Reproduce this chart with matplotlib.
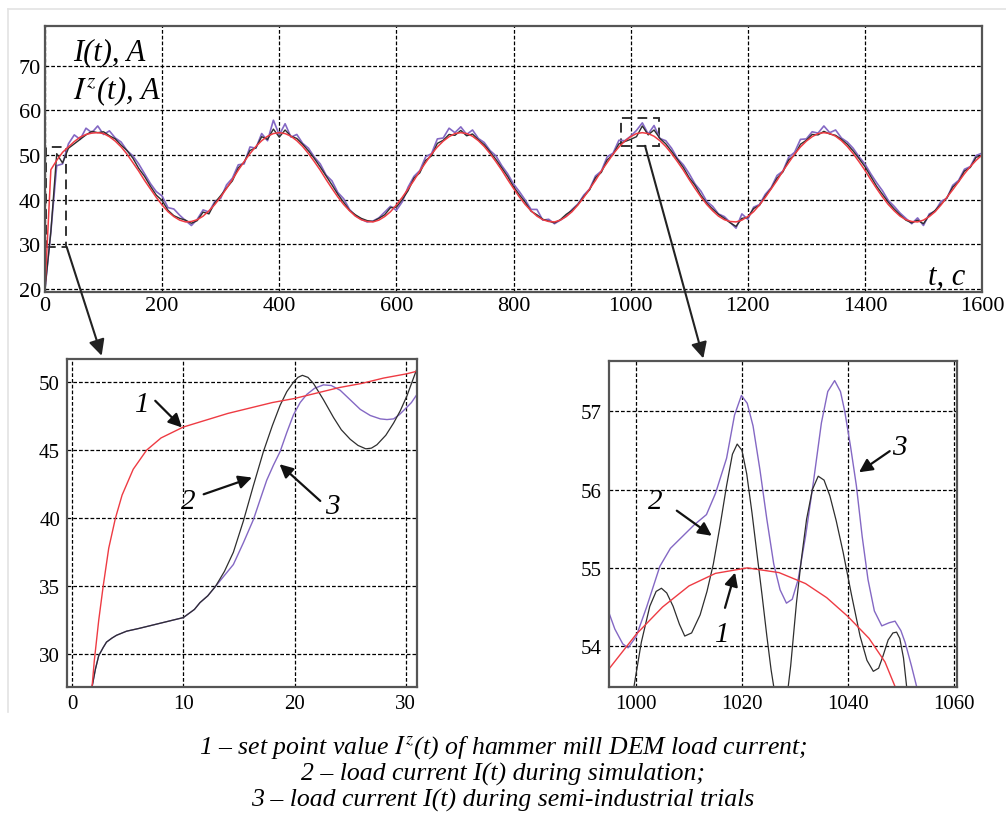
import numpy as np
import matplotlib
matplotlib.use("Agg")
import matplotlib.pyplot as plt
from matplotlib.patches import Rectangle, ConnectionPatch
from matplotlib.lines import Line2D

plt.rcParams['font.family'] = ['Liberation Serif', 'DejaVu Serif']
plt.rcParams['mathtext.fontset'] = 'stix'

# ---- main plot, t = 0..1600 s step 10 ----
t_main = np.arange(0, 1601, 10)

red_main = [20.0, 46.7, 48.8, 50.6, 51.8, 53.0, 54.0, 54.6, 54.9,
            55.0, 54.8, 54.1, 53.1, 51.8, 50.2, 48.3, 46.4, 44.3, 42.4,
            40.5, 38.8, 37.3, 36.2, 35.4, 35.0, 35.1, 35.5, 36.3, 37.5,
            38.9, 40.6, 42.5, 44.5, 46.6, 48.5, 50.3, 51.9, 53.2, 54.2, 54.8,
            55.0, 54.8, 54.2, 53.2, 51.9, 50.3, 48.5, 46.6, 44.5, 42.5, 40.6,
            38.9, 37.5, 36.3, 35.5, 35.1, 35.0, 35.4, 36.2, 37.3, 38.8, 40.5,
            42.4, 44.3, 46.4, 48.3, 50.2, 51.8, 53.1, 54.1, 54.8, 55.0,
            54.8, 54.2, 53.2, 51.9, 50.3, 48.5, 46.6, 44.5, 42.5, 40.6,
            38.9, 37.5, 36.3, 35.5, 35.1, 35.0, 35.4, 36.2, 37.3, 38.8, 40.5,
            42.4, 44.3, 46.4, 48.3, 50.2, 51.8, 53.1, 54.1, 54.8, 55.0,
            54.8, 54.2, 53.2, 51.9, 50.3, 48.5, 46.6, 44.5, 42.5, 40.6,
            38.9, 37.5, 36.3, 35.5, 35.1, 35.0, 35.4, 36.2, 37.3, 38.8, 40.5,
            42.4, 44.3, 46.4, 48.3, 50.2, 51.8, 53.1, 54.1, 54.8, 55.0,
            54.8, 54.2, 53.2, 51.9, 50.3, 48.5, 46.6, 44.5, 42.5, 40.6,
            38.9, 37.5, 36.3, 35.5, 35.1, 35.0, 35.4, 36.2, 37.3, 38.8, 40.5,
            42.2, 44.0, 45.8, 47.4, 48.8, 50.0]

sim_main = [20.0, 32.8, 50.3, 48.2, 51.5, 52.5, 53.5, 54.5, 55.3, 55.0,
            55.2, 54.3, 53.6, 52.2, 51.0, 49.3, 47.0, 45.2, 43.0, 41.0,
            39.8, 37.6, 36.4, 35.8, 35.4, 34.7, 35.3, 37.2, 36.8, 39.3,
            40.9, 42.6, 44.2, 47.1, 48.4, 51.0, 51.6, 54.1, 53.5, 55.8,
            54.0, 55.6, 54.2, 53.7, 52.4, 50.9, 49.2, 47.3, 45.3, 43.3,
            41.2, 39.4, 37.6, 36.6, 35.8, 35.3, 35.1, 35.8, 36.6, 38.2,
            38.3, 40.0, 42.0, 44.8, 46.0, 48.8, 49.8, 52.6, 53.3, 54.6,
            54.4, 55.5, 54.3, 54.7, 53.4, 52.3, 50.7, 49.0, 47.1, 45.2,
            42.9, 41.1, 39.4, 37.4, 36.6, 35.6, 35.2, 34.8, 35.5, 36.7,
            37.6, 38.9, 40.7, 42.2, 44.9, 46.1, 48.9, 50.1, 52.5, 53.0,
            53.5, 54.1, 56.5, 54.5, 55.6, 53.7, 52.5, 50.8, 49.0, 47.2,
            44.9, 43.2, 41.0, 39.2, 37.9, 36.7, 35.8, 34.8, 34.0, 35.8,
            36.0, 38.0, 38.7, 40.8, 42.5, 44.8, 46.2, 48.9, 50.0, 52.4,
            53.3, 54.6, 54.5, 55.3, 54.7, 54.4, 53.5, 52.4, 50.9, 49.2,
            47.4, 45.2, 43.0, 41.2, 39.4, 37.9, 36.6, 35.4, 34.8, 35.4,
            34.6, 36.5, 37.6, 39.0, 40.4, 42.8, 44.0, 46.4, 47.2, 49.5,
            49.8]

trial_main = [20.0, 32.8, 47.6, 48.0, 52.5, 54.5, 53.5, 56.0, 55.0, 56.5,
              54.6, 55.4, 53.8, 52.9, 51.0, 49.8, 48.0, 45.8, 43.6, 41.8,
              40.8, 38.2, 37.9, 36.5, 35.3, 34.2, 35.6, 37.7, 37.2, 39.6,
              40.3, 43.3, 44.8, 47.8, 48.0, 51.8, 51.5, 54.8, 53.2, 57.8,
              54.5, 57.0, 54.0, 54.6, 52.6, 51.5, 49.5, 48.0, 45.5, 44.2,
              41.6, 40.2, 37.8, 36.4, 35.6, 35.0, 35.2, 35.9, 37.2, 38.5,
              37.6, 39.5, 42.8, 45.2, 46.5, 49.6, 50.3, 53.6, 53.8, 56.0,
              55.0, 56.3, 54.6, 55.6, 53.7, 52.8, 51.0, 49.8, 47.6, 45.8,
              43.5, 41.8, 39.9, 37.8, 37.8, 35.4, 35.6, 34.6, 35.4, 36.3,
              37.8, 39.0, 41.0, 42.4, 45.3, 46.4, 49.6, 50.4, 53.3, 53.2,
              54.2, 55.5, 57.2, 54.7, 56.6, 53.7, 53.2, 51.5, 49.2, 47.8,
              45.8, 43.5, 41.9, 39.6, 38.5, 36.8, 36.2, 34.9, 33.6, 36.8,
              35.6, 38.3, 38.9, 41.2, 42.7, 45.4, 46.4, 49.5, 50.6, 53.5,
              53.6, 55.2, 54.9, 56.5, 55.0, 55.6, 53.8, 52.9, 51.5, 49.6,
              48.0, 45.8, 43.8, 42.0, 39.8, 38.5, 37.0, 35.8, 34.6, 35.9,
              34.2, 36.8, 37.4, 39.6, 40.3, 43.2, 44.3, 46.8, 47.4, 49.9,
              50.4]

# ---- left zoom (start-up) ----
t_red_left = [1.8, 2.0, 2.4, 2.8, 3.3, 3.9, 4.5, 5.5, 6.7, 8.0, 10.0, 12.0,
              14.0, 16.0, 18.0, 20.0, 22.0, 24.0, 26.0, 28.0, 30.0, 31.5]
red_left = [27.6, 29.5, 32.5, 35.0, 37.8, 40.0, 41.7, 43.6, 45.0, 45.9, 46.7, 47.2,
            47.7, 48.1, 48.5, 48.8, 49.2, 49.6, 49.9, 50.3, 50.6, 50.9]
t_sim_left = [1.8, 2.1, 2.4, 2.8, 3.1, 3.6, 4.0, 4.9, 6.0, 7.0, 8.5, 10.0, 11.0,
              11.5, 12.2, 12.9, 13.7, 14.5, 15.4, 16.3, 17.2, 18.0, 18.7, 19.3,
              19.9, 20.3, 20.7, 21.2, 21.7, 22.6, 23.5, 24.2, 25.0, 25.7, 26.4,
              26.9, 27.4, 28.2, 28.9, 29.5, 30.1, 31.0, 31.5]
sim_left = [27.6, 28.9, 29.9, 30.5, 30.9, 31.2, 31.4, 31.7, 31.9, 32.1, 32.4, 32.7, 33.3,
            33.8, 34.3, 35.0, 36.1, 37.5, 39.8, 42.4, 44.9, 46.8, 48.3, 49.3,
            50.0, 50.35, 50.5, 50.35, 49.9, 48.7, 47.4, 46.5, 45.8, 45.35, 45.1,
            45.15, 45.4, 46.1, 47.0, 47.9, 49.0, 51.0, 51.8]
t_trial_left = [1.8, 2.1, 2.4, 2.8, 3.1, 3.6, 4.0, 4.9, 6.0, 7.0, 8.5, 10.0, 11.0,
                11.5, 12.2, 12.9, 13.7, 14.5, 15.4, 16.3, 17.0, 17.5, 18.1, 18.7,
                19.3, 19.9, 20.5, 21.1, 21.8, 22.6, 23.3, 24.1, 25.0, 25.9, 26.8,
                27.7, 28.3, 28.9, 29.4, 29.9, 30.5, 31.0, 31.5]
trial_left = [27.6, 28.9, 29.9, 30.5, 30.9, 31.2, 31.4, 31.7, 31.9, 32.1, 32.4, 32.7, 33.3,
              33.8, 34.3, 35.0, 35.8, 36.6, 38.2, 39.9, 41.6, 42.8, 43.9, 44.9,
              46.3, 47.6, 48.5, 49.1, 49.55, 49.8, 49.75, 49.4, 48.7, 48.0, 47.55,
              47.3, 47.25, 47.3, 47.6, 48.0, 48.5, 49.1, 49.6]

# ---- right zoom (around t = 1020 s) ----
t_red_right = [995, 1000, 1005, 1010, 1015, 1021, 1027, 1032, 1036, 1040, 1044,
               1047, 1049, 1050]
red_right = [53.72, 54.15, 54.50, 54.77, 54.93, 55.00, 54.94, 54.80, 54.62, 54.38,
             54.10, 53.80, 53.47, 53.30]
t_sim_right = [999.0, 999.6, 1001.0, 1002.6, 1003.8, 1004.8, 1005.8, 1007.0, 1008.2,
               1009.2, 1010.5, 1012.1, 1013.4, 1014.6, 1015.9, 1017.1, 1018.2,
               1019.1, 1020.0, 1020.9, 1021.9, 1022.8, 1023.8, 1024.7, 1025.5,
               1026.2, 1027.3, 1028.5, 1029.2, 1030.3, 1031.2, 1032.2, 1033.3,
               1034.4, 1035.5, 1036.6, 1037.8, 1039.1, 1040.7, 1042.3, 1043.6,
               1044.8, 1045.8, 1046.6, 1047.6, 1048.5, 1049.2, 1049.8, 1050.5,
               1051.1, 1052.0]
sim_right = [53.2, 53.48, 54.05, 54.51, 54.7, 54.74, 54.68, 54.51, 54.28,
             54.13, 54.17, 54.4, 54.7, 55.05, 55.55, 56.05, 56.45,
             56.58, 56.5, 56.2, 55.7, 55.2, 54.65, 54.13, 53.7,
             53.4, 53.2, 53.35, 53.75, 54.56, 55.1, 55.62, 56.0,
             56.17, 56.12, 55.92, 55.6, 55.2, 54.65, 54.13, 53.82,
             53.68, 53.72, 53.87, 54.08, 54.17, 54.18, 54.1, 53.85,
             53.48, 53.2]
t_trial_right = [994.5, 996.0, 997.5, 998.5, 1000.0, 1002.0, 1004.5, 1006.5, 1008.9,
                 1011.0, 1013.3, 1015.0, 1017.1, 1018.6, 1019.9, 1021.0, 1022.1,
                 1023.4, 1024.7, 1026.0, 1027.2, 1028.4, 1029.5, 1030.6, 1032.0,
                 1033.5, 1035.0, 1036.2, 1037.5, 1038.6, 1039.4, 1040.5, 1041.6,
                 1042.7, 1043.8, 1045.0, 1046.4, 1047.8, 1048.9, 1050.0, 1050.8,
                 1052.0, 1053.0, 1054.0]
trial_right = [54.5, 54.22, 54.03, 53.98, 54.12, 54.5, 55.02, 55.25, 55.41,
               55.55, 55.68, 55.95, 56.4, 56.95, 57.2, 57.1, 56.81,
               56.25, 55.62, 55.05, 54.72, 54.55, 54.6, 54.85, 55.4,
               56.1, 56.85, 57.25, 57.39, 57.25, 57.0, 56.55, 56.05,
               55.4, 54.85, 54.45, 54.26, 54.3, 54.32, 54.2, 54.05,
               53.75, 53.48, 53.2]

caption = [r"1 – set point value $I^{z}$(t) of hammer mill DEM load current;",
           "2 – load current I(t) during simulation;",
           "3 – load current I(t) during semi-industrial trials"]

c_red = '#ee3b43'
c_sim = '#2e2e2e'
c_trial = '#8468c4'
grid_kw = dict(color='black', linestyle=(0, (3, 1.6)), linewidth=0.9)

fig = plt.figure(figsize=(10.06, 8.20), dpi=100)

W, H = 1006.0, 820.0
def box(x0, y0, x1, y1):
    return [x0 / W, 1 - y1 / H, (x1 - x0) / W, (y1 - y0) / H]

ax = fig.add_axes(box(45, 27, 982, 293))
axl = fig.add_axes(box(67, 360, 417, 688))
axr = fig.add_axes(box(609, 362, 957, 688))

for a in (ax, axl, axr):
    a.grid(True, **grid_kw)
    a.set_axisbelow(True)
    for s in a.spines.values():
        s.set_color('#555555')
        s.set_linewidth(1.6)
    a.tick_params(length=0, labelsize=15, pad=5)

# top
ax.plot(t_main, trial_main, color=c_trial, lw=1.2)
ax.plot(t_main, sim_main, color=c_sim, lw=1.0)
ax.plot(t_main, red_main, color=c_red, lw=1.1)
ax.set_xlim(0, 1600)
ax.set_ylim(19.3, 78.9)
ax.set_xticks(range(0, 1601, 200))
ax.set_yticks(range(20, 71, 10))
ax.tick_params(labelsize=16, pad=3)
ax.text(0.03, 0.905, "I(t), A", transform=ax.transAxes, fontsize=22,
        style='italic', va='center')
ax.text(0.03, 0.76, r"$I^{z}$(t), A", transform=ax.transAxes, fontsize=22,
        style='italic', va='center')
ax.text(0.942, 0.06, "t, c", transform=ax.transAxes, fontsize=22,
        style='italic', va='center')
ax.add_patch(Rectangle((1, 29.4), 35, 22.3, fill=False, ec='#333333', lw=1.4,
                       ls=(0, (5, 3))))
ax.add_patch(Rectangle((983, 52.1), 65, 6.1, fill=False, ec='#333333', lw=1.4,
                       ls=(0, (5, 3))))

# left zoom
axl.plot(t_trial_left, trial_left, color=c_trial, lw=1.0)
axl.plot(t_sim_left, sim_left, color=c_sim, lw=0.9)
axl.plot(t_red_left, red_left, color=c_red, lw=1.0)
axl.set_xlim(-0.45, 31.0)
axl.set_ylim(27.6, 51.7)
axl.set_xticks([0, 10, 20, 30])
axl.set_yticks([30, 35, 40, 45, 50])

arrow_kw = dict(arrowstyle='-|>', color='#111111', lw=1.6, mutation_scale=20,
                shrinkA=0, shrinkB=0)
lab_kw = dict(fontsize=21, style='italic', ha='center', va='center')
axl.annotate("", xy=(9.88, 46.67), xytext=(7.48, 48.63), arrowprops=arrow_kw)
axl.text(6.29, 48.38, "1", **lab_kw)
axl.annotate("", xy=(16.17, 42.99), xytext=(11.83, 41.76), arrowprops=arrow_kw)
axl.text(10.48, 41.27, "2", **lab_kw)
axl.annotate("", xy=(18.65, 43.97), xytext=(22.31, 41.27), arrowprops=arrow_kw)
axl.text(23.36, 40.9, "3", **lab_kw)

# right zoom
axr.plot(t_trial_right, trial_right, color=c_trial, lw=1.0)
axr.plot(t_sim_right, sim_right, color=c_sim, lw=0.9)
axr.plot(t_red_right, red_right, color=c_red, lw=1.0)
axr.set_xlim(994.9, 1060.6)
axr.set_ylim(53.48, 57.64)
axr.set_xticks([1000, 1020, 1040, 1060])
axr.set_yticks([54, 55, 56, 57])
axr.annotate("", xy=(1014.3, 55.41), xytext=(1007.7, 55.73), arrowprops=arrow_kw)
axr.text(1003.6, 55.85, "2", **lab_kw)
axr.annotate("", xy=(1042.1, 56.22), xytext=(1047.9, 56.49), arrowprops=arrow_kw)
axr.text(1049.8, 56.54, "3", **lab_kw)
axr.annotate("", xy=(1018.7, 54.94), xytext=(1016.8, 54.49), arrowprops=arrow_kw)
axr.text(1016.2, 54.15, "1", **lab_kw)

# big arrows from the dashed boxes to the zoom panels
big_kw = dict(arrowstyle='-|>', color='#222222', lw=1.5, mutation_scale=24,
              shrinkA=0, shrinkB=0)
fig.add_artist(ConnectionPatch(xyA=(37, 29.4), coordsA=ax.transData,
                               xyB=(0.099, 1.01), coordsB=axl.transAxes, **big_kw))
fig.add_artist(ConnectionPatch(xyA=(1024.6, 52.06), coordsA=ax.transData,
                               xyB=(0.271, 1.008), coordsB=axr.transAxes, **big_kw))

# light border of the source picture
fig.add_artist(Line2D([8 / W, 1.0], [1 - 10 / H] * 2, color='#e3e3e3', lw=1.2,
                      transform=fig.transFigure))
fig.add_artist(Line2D([8 / W] * 2, [1 - 10 / H, 1 - 713 / H], color='#e3e3e3', lw=1.2,
                      transform=fig.transFigure))

for i, line in enumerate(caption):
    fig.text(0.5, 1 - (748 + 26 * i) / H, line, fontsize=18.5, style='italic',
             ha='center', va='center')

fig.savefig('out.png', dpi=100)
